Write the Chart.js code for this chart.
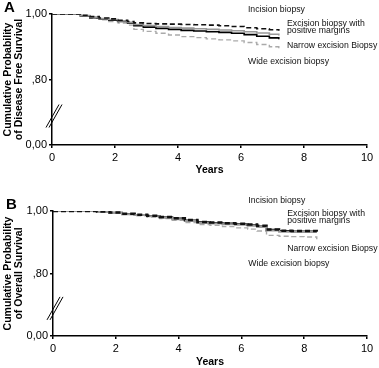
<!DOCTYPE html>
<html>
<head>
<meta charset="utf-8">
<script src="https://cdn.jsdelivr.net/npm/chart.js@4.4.1/dist/chart.umd.min.js"></script>
<style>
  html, body { margin: 0; padding: 0; background: #fff; }
  #wrap { position: relative; width: 379px; height: 368px; }
  .panel { position: absolute; left: 0; width: 379px; height: 184px; }
</style>
</head>
<body>
<div id="wrap">
  <div class="panel" style="top:0"><canvas id="chartA"></canvas></div>
  <div class="panel" style="top:184px"><canvas id="chartB"></canvas></div>
</div>
<script>
// Panel A - disease free survival
const yearsA     = [0, 0.65, 0.9, 1.2, 1.5, 1.8, 2.1, 2.4, 2.6, 2.9, 3.3, 3.7, 4.1, 4.5, 4.9, 5.3, 5.7, 6.1, 6.5, 6.9, 7.2];
const incisionA  = [1, 1, .996, .992, .988, .985, .981, .977, .973, .971, .970, .969, .968, .967, .966, .964, .962, .958, .955, .952, .949];
const posMarginA = [1, 1, .995, .990, .986, .983, .979, .975, .968, .965, .962, .959, .957, .955, .953, .951, .949, .946, .942, .938, .934];
const narrowA    = [1, 1, .994, .989, .985, .981, .977, .973, .964, .960, .956, .953, .950, .948, .946, .944, .941, .937, .932, .927, .923];
const wideA      = [1, 1, .993, .987, .982, .977, .972, .966, .953, .947, .941, .936, .931, .928, .924, .921, .918, .913, .907, .900, .892];

// Panel B - overall survival
const yearsB     = [0, 1.0, 1.4, 1.8, 2.2, 2.6, 3.0, 3.4, 3.8, 4.2, 4.6, 5.0, 5.4, 5.8, 6.2, 6.5, 6.8, 7.2, 7.6, 8.0, 8.4];
const incisionB  = [1, 1, .998, .995, .991, .988, .985, .981, .977, .971, .965, .963, .961, .959, .957, .953, .941, .937, .936, .936, .935];
const posMarginB = [1, 1, .997, .994, .990, .987, .983, .979, .974, .968, .962, .960, .958, .956, .953, .949, .938, .934, .933, .933, .933];
const narrowB    = [1, 1, .998, .995, .991, .987, .984, .980, .976, .970, .964, .962, .960, .958, .955, .951, .940, .936, .935, .935, .934];
const wideB      = [1, 1, .997, .993, .989, .985, .981, .976, .970, .963, .957, .954, .950, .946, .942, .936, .922, .919, .918, .917, .910];

// y ticks: the axis is broken, the bottom tick stands for 0
const yTickValues = [0.6, 0.8, 1.0];
const yTickLabels = ['0,00', ',80', '1,00'];
const xTicks = [0, 2, 4, 6, 8, 10];

// curve labels
const curveNames = ['Incision biopsy', 'Excision biopsy with', 'positive margins', 'Narrow excision Biopsy', 'Wide excision biopsy'];
const labelYearA = [6.22, 7.46, 7.46, 7.46, 6.22];
const labelProbA = [1.012, 0.972, 0.949, 0.903, 0.855];
const labelYearB = [6.22, 7.46, 7.46, 7.46, 6.22];
const labelProbB = [1.033, 0.991, 0.968, 0.879, 0.832];

const FONT = "'Liberation Sans', Arial, sans-serif";

function toPoints(xs, ys) {
    return xs.map((x, i) => ({ x: x, y: ys[i] }));
}

function makeDatasets(xs, inc, pos, nar, wid, wide) {
    return [
        { label: 'Incision biopsy', data: toPoints(xs, inc), borderColor: '#111', borderWidth: wide ? 2.4 : 1.6, borderDash: [5, 3] },
        { label: 'Excision biopsy with positive margins', data: toPoints(xs, pos), borderColor: '#999', borderWidth: wide ? 2 : 1.6 },
        { label: 'Narrow excision Biopsy', data: toPoints(xs, nar), borderColor: '#000', borderWidth: wide ? 1.8 : 1.6 },
        { label: 'Wide excision biopsy', data: toPoints(xs, wid), borderColor: '#aaa', borderWidth: 1.4, borderDash: [5, 3] }
    ].map(d => Object.assign(d, { stepped: true, pointRadius: 0, fill: false }));
}

// draws panel letter, curve names and the axis break mark
const decorPlugin = {
    id: 'decor',
    afterDraw(chart, args, opts) {
        const ctx = chart.ctx;
        const xs = chart.scales.x, ys = chart.scales.y;
        ctx.save();
        ctx.fillStyle = '#000';
        ctx.font = 'bold 15px ' + FONT;
        ctx.textBaseline = 'top';
        ctx.textAlign = 'left';
        ctx.fillText(opts.letter, opts.letterX, opts.letterY);

        ctx.font = '8.7px ' + FONT;
        ctx.textBaseline = 'middle';
        ctx.fillStyle = '#111';
        curveNames.forEach((t, i) => {
            ctx.fillText(t, xs.getPixelForValue(opts.lx[i]), ys.getPixelForValue(opts.ly[i]));
        });

        // break mark on the y axis
        const cx = chart.chartArea.left + 1;
        const cy = ys.getPixelForValue(0.69);
        ctx.strokeStyle = '#000';
        ctx.lineWidth = 1;
        [0, 3].forEach(o => {
            ctx.beginPath();
            ctx.moveTo(cx - 7 + o, cy + 12);
            ctx.lineTo(cx + 6 + o, cy - 11);
            ctx.stroke();
        });
        ctx.restore();
    }
};

function makeChart(id, datasets, cfg) {
    return new Chart(document.getElementById(id), {
        type: 'line',
        data: { datasets: datasets },
        plugins: [decorPlugin],
        options: {
            responsive: true,
            maintainAspectRatio: false,
            animation: false,
            layout: { padding: { top: cfg.top, right: 12, bottom: 0, left: 0 } },
            plugins: {
                legend: { display: false },
                tooltip: { enabled: false },
                decor: { letter: cfg.letter, letterX: cfg.letterX, letterY: cfg.letterY, lx: cfg.lx, ly: cfg.ly }
            },
            scales: {
                x: {
                    type: 'linear',
                    min: 0, max: 10,
                    afterBuildTicks: s => { s.ticks = xTicks.map(v => ({ value: v })); },
                    afterFit: s => { s.height = cfg.xh; },
                    border: { display: true, color: '#000', width: 1.5 },
                    grid: { display: true, drawOnChartArea: false, drawTicks: true, tickLength: 3, color: '#000', lineWidth: 1.5 },
                    ticks: { color: '#000', padding: 3, maxRotation: 0, font: { family: FONT, size: 11 } },
                    title: { display: true, text: 'Years', color: '#000', padding: { top: 0, bottom: cfg.yearsPad }, font: { family: FONT, size: 10.5, weight: 'bold' } }
                },
                y: {
                    type: 'linear',
                    min: 0.6, max: 1.0,
                    afterBuildTicks: s => { s.ticks = yTickValues.map(v => ({ value: v })); },
                    afterFit: s => { s.width = cfg.yw; },
                    border: { display: true, color: '#000', width: 1.5 },
                    grid: { display: true, drawOnChartArea: false, drawTicks: true, tickLength: 3, color: '#000', lineWidth: 1.5 },
                    ticks: {
                        color: '#000', padding: 2, font: { family: FONT, size: 11 },
                        callback: v => {
                            const i = yTickValues.findIndex(t => Math.abs(t - v) < 1e-6);
                            return i >= 0 ? yTickLabels[i] : '';
                        }
                    },
                    title: { display: true, text: cfg.yTitle, color: '#000', padding: { top: 3, bottom: 0 }, font: { family: FONT, size: 10.5, weight: 'bold', lineHeight: 1.05 } }
                }
            }
        }
    });
}

makeChart('chartA', makeDatasets(yearsA, incisionA, posMarginA, narrowA, wideA, false), {
    top: 14, xh: 39, yw: 52, yearsPad: 8,
    letter: 'A', letterX: 4, letterY: 0,
    lx: labelYearA, ly: labelProbA,
    yTitle: ['Cumulative Probability', 'of Disease Free Survival']
});

makeChart('chartB', makeDatasets(yearsB, incisionB, posMarginB, narrowB, wideB, true), {
    top: 27, xh: 32, yw: 53, yearsPad: 0,
    letter: 'B', letterX: 6, letterY: 13,
    lx: labelYearB, ly: labelProbB,
    yTitle: ['Cumulative Probability', 'of Overall Survival']
});
</script>
</body>
</html>
